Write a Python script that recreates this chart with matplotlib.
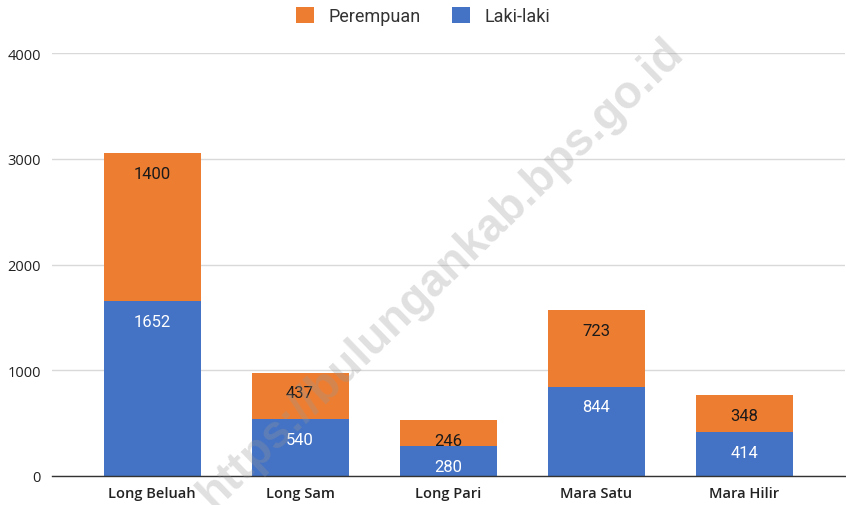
import matplotlib
matplotlib.use("Agg")
import matplotlib.pyplot as plt
import numpy as np

categories = ["Long Beluah", "Long Sam", "Long Pari", "Mara Satu", "Mara Hilir"]
laki_laki = [1652, 540, 280, 844, 414]
perempuan = [1400, 437, 246, 723, 348]
y_ticks = [0, 1000, 2000, 3000, 4000]

blue = "#4472C4"
orange = "#ED7D31"

fig = plt.figure(figsize=(8.46, 5.06), dpi=100)
ax = fig.add_axes([52/846, 1-477/506, (845-52)/846, (477-54)/506])

x = np.arange(len(categories))
w = 0.655
b1 = ax.bar(x, laki_laki, w, color=blue, label="Laki-laki", zorder=2)
b2 = ax.bar(x, perempuan, w, bottom=laki_laki, color=orange, label="Perempuan", zorder=2)

for i in range(len(categories)):
    ax.annotate(str(laki_laki[i]), (x[i], laki_laki[i]), xytext=(0, -14.5), textcoords="offset points",
                ha="center", va="center", color="white", fontsize=12, family="Roboto", zorder=3)
    top = laki_laki[i] + perempuan[i]
    ax.annotate(str(perempuan[i]), (x[i], top), xytext=(0, -14.5), textcoords="offset points",
                ha="center", va="center", color="#1a1a1a", fontsize=12, family="Roboto", zorder=3)

ax.set_ylim(0, 4000)
ax.set_xlim(-0.676, 4.682)
ax.set_yticks(y_ticks)
ax.set_yticklabels([str(t) for t in y_ticks], family="Open Sans", fontsize=10.5, color="#222222")
ax.set_xticks(x)
ax.set_xticklabels(categories, family="Open Sans", fontweight="semibold", fontsize=10.5, color="#222222")
ax.yaxis.grid(True, color="#d9d9d9", linewidth=1, zorder=0)
ax.set_axisbelow(True)
for s in ["top", "right", "left"]:
    ax.spines[s].set_visible(False)
ax.spines["bottom"].set_color("#333333")
ax.spines["bottom"].set_linewidth(1)
ax.spines["bottom"].set_zorder(3)
ax.tick_params(axis="both", length=0)
ax.tick_params(axis="x", pad=7)
ax.tick_params(axis="y", pad=8)

leg = fig.legend(handles=[b2, b1], labels=["Perempuan", "Laki-laki"], loc="center",
                 bbox_to_anchor=(0.5, 1-17/506), ncol=2, frameon=False,
                 prop={"family": "Roboto", "size": 13}, handlelength=1.0, handleheight=1.0,
                 columnspacing=1.7, handletextpad=0.8)
for t in leg.get_texts():
    t.set_color("#333333")

fig.text(0.522, 0.459, "https://bulungankab.bps.go.id", rotation=44, ha="center", va="center",
         fontsize=33, fontweight="bold", family="Liberation Sans", color="#999999", alpha=0.3, zorder=10)

fig.savefig("out.png", dpi=100)
